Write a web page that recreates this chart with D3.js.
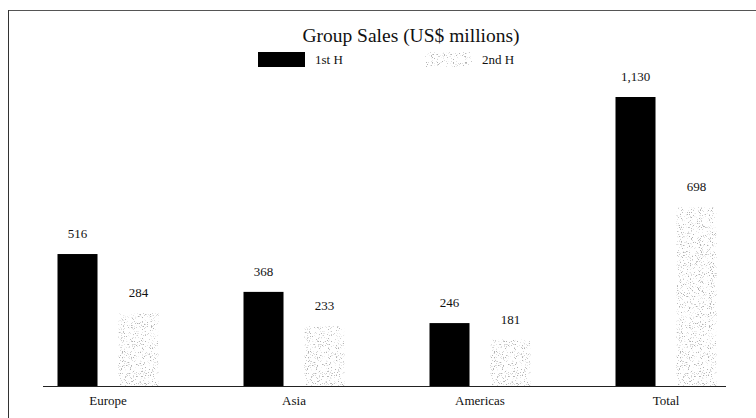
<!DOCTYPE html>
<html>
<head>
<meta charset="utf-8">
<script src="https://cdn.jsdelivr.net/npm/d3@7"></script>
<style>
  html, body { margin: 0; padding: 0; background: #fff; }
  svg text { font-family: "Liberation Serif", "Times New Roman", Times, "DejaVu Serif", serif !important; }
</style>
</head>
<body>
<svg id="chart" width="756" height="418"></svg>
<script>
// Group sales by region, US$ millions
const categories = ["Europe", "Asia", "Americas", "Total"];
const seriesNames = ["1st H", "2nd H"];
const firstHalf = [516, 368, 246, 1130];
const secondHalf = [284, 233, 181, 698];
const valueLabels1 = ["516", "368", "246", "1,130"];
const valueLabels2 = ["284", "233", "181", "698"];

const svg = d3.select("#chart");

// speckled fill for the second-half series
const defs = svg.append("defs");
const speckle = defs.append("filter")
  .attr("id", "speckle")
  .attr("x", 0).attr("y", 0).attr("width", 1).attr("height", 1)
  .attr("filterUnits", "objectBoundingBox");
speckle.append("feTurbulence")
  .attr("type", "fractalNoise")
  .attr("baseFrequency", 0.9)
  .attr("numOctaves", 2)
  .attr("seed", 7)
  .attr("result", "noise");
speckle.append("feColorMatrix")
  .attr("in", "noise")
  .attr("type", "matrix")
  .attr("values", "0 0 0 0 0.45  0 0 0 0 0.45  0 0 0 0 0.45  7 0 0 0 -4.15")
  .attr("result", "dots");
speckle.append("feComposite")
  .attr("in", "dots")
  .attr("in2", "SourceGraphic")
  .attr("operator", "in");

// frame lines
svg.append("line").attr("x1", 8).attr("x2", 756).attr("y1", 10.5).attr("y2", 10.5)
  .attr("stroke", "#555").attr("stroke-width", 1);
svg.append("line").attr("x1", 8.5).attr("x2", 8.5).attr("y1", 10).attr("y2", 418)
  .attr("stroke", "#333").attr("stroke-width", 1);

// scales
const x = d3.scaleBand().domain(categories).range([15, 759]).paddingInner(0).paddingOuter(0);
const xSub = d3.scaleBand().domain(seriesNames).range([-50.5, 50.5]).paddingInner(0.344);
const y = d3.scaleLinear().domain([0, 1130]).range([386, 97]);

const rows = categories.map((c, i) => ({
  cat: c,
  vals: [
    { s: seriesNames[0], v: firstHalf[i], label: valueLabels1[i] },
    { s: seriesNames[1], v: secondHalf[i], label: valueLabels2[i] }
  ]
}));

// title
svg.append("text")
  .attr("x", 411).attr("y", 42)
  .attr("text-anchor", "middle")
  .attr("font-size", 19.5)
  .attr("fill", "#111")
  .text("Group Sales (US$ millions)");

// legend
const legend = svg.append("g");
const legendItems = [
  { name: seriesNames[0], x: 258 },
  { name: seriesNames[1], x: 425 }
];
legendItems.forEach((it, i) => {
  const r = legend.append("rect")
    .attr("x", it.x).attr("y", 52).attr("width", 47).attr("height", 15);
  if (i === 0) r.attr("fill", "#000");
  else r.attr("fill", "#888").attr("filter", "url(#speckle)");
  legend.append("text")
    .attr("x", it.x + 57).attr("y", 64)
    .attr("font-size", 13)
    .attr("fill", "#111")
    .text(it.name);
});

// bars
const groups = svg.append("g").selectAll("g")
  .data(rows).join("g")
  .attr("transform", d => `translate(${x(d.cat) + x.bandwidth() / 2},0)`);

groups.selectAll("rect")
  .data(d => d.vals).join("rect")
  .attr("x", d => xSub(d.s))
  .attr("width", xSub.bandwidth())
  .attr("y", d => y(d.v))
  .attr("height", d => y(0) - y(d.v))
  .attr("fill", d => d.s === seriesNames[0] ? "#000" : "#777")
  .attr("filter", d => d.s === seriesNames[0] ? null : "url(#speckle)");

groups.selectAll("text.val")
  .data(d => d.vals).join("text")
  .attr("class", "val")
  .attr("x", d => xSub(d.s) + xSub.bandwidth() / 2)
  .attr("y", d => y(d.v) - 16)
  .attr("text-anchor", "middle")
  .attr("font-size", 13)
  .attr("fill", "#111")
  .text(d => d.label);

// x axis
const xAxis = d3.axisBottom(x).tickSize(0).tickPadding(10);
const axisG = svg.append("g")
  .attr("transform", `translate(0,${y(0)})`)
  .call(xAxis);
axisG.select(".domain").remove();
axisG.append("line")
  .attr("x1", 43).attr("x2", 726).attr("y1", 0.5).attr("y2", 0.5)
  .attr("stroke", "#222").attr("stroke-width", 1);
axisG.selectAll(".tick text")
  .attr("font-size", 13)
  .attr("fill", "#111");
</script>
</body>
</html>
